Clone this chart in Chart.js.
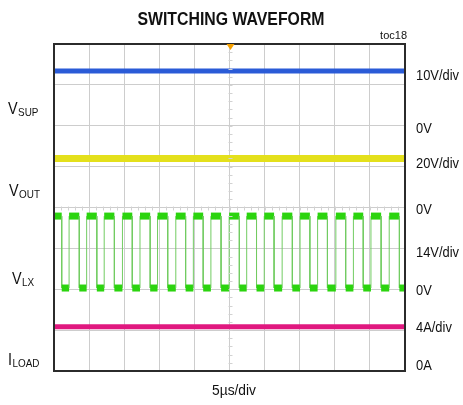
<!DOCTYPE html>
<html lang="en">
<head>
  <meta charset="UTF-8">
  <title>Switching Waveform</title>
  <script src="https://cdn.jsdelivr.net/npm/chart.js"></script>
  <style>
    body { margin: 0; background: #fff; }
    canvas { display: block; }
  </style>
</head>
<body>
  <canvas id="scope" width="463" height="405"></canvas>

  <script>
    // screen is 10 x 8 divisions, values below are in divisions
    const timeSpan = [0, 10];
    const vsupLevel = 7.34;
    const voutLevel = 5.20;
    const iloadLevel = 1.08;
    const lxHigh = 3.79;
    const lxLow = 2.03;
    const lxFall = [0.22, 0.72, 1.22, 1.72, 2.23, 2.74, 3.24, 3.75, 4.25, 4.76,
                    5.28, 5.77, 6.27, 6.79, 7.29, 7.79, 8.31, 8.81, 9.32, 9.84];
    const lxRise = [0.43, 0.93, 1.43, 1.95, 2.45, 2.95, 3.47, 3.97, 4.47, 4.99,
                    5.49, 5.99, 6.50, 7.01, 7.51, 8.03, 8.53, 9.03, 9.55];

    const rightLabels = [
      ['10V/div', 80], ['0V', 133], ['20V/div', 168], ['0V', 214],
      ['14V/div', 257], ['0V', 295], ['4A/div', 332], ['0A', 370]
    ];
    const leftLabels = [
      ['V', 'SUP', 8, 114], ['V', 'OUT', 9, 196], ['V', 'LX', 12, 284], ['I', 'LOAD', 8, 365]
    ];

    function flat(level) {
      return timeSpan.map(t => ({ x: t, y: level }));
    }

    // square wave built from the read edge times
    const lxData = [{ x: 0, y: lxHigh }];
    lxFall.forEach((f, i) => {
      lxData.push({ x: f, y: lxHigh }, { x: f, y: lxLow });
      if (i < lxRise.length) {
        lxData.push({ x: lxRise[i], y: lxLow }, { x: lxRise[i], y: lxHigh });
      }
    });
    lxData.push({ x: 10, y: lxLow });

    const FONT = '"Liberation Sans", Arial, sans-serif';

    function text(ctx, str, x, y, size, bold, sx, align) {
      ctx.save();
      ctx.font = (bold ? 'bold ' : '') + size + 'px ' + FONT;
      ctx.textBaseline = 'alphabetic';
      ctx.textAlign = 'left';
      const w = ctx.measureText(str).width * sx;
      let x0 = x;
      if (align === 'center') x0 = x - w / 2;
      if (align === 'right') x0 = x - w;
      ctx.translate(x0, y);
      ctx.scale(sx, 1);
      ctx.fillText(str, 0, 0);
      ctx.restore();
      return w;
    }

    const scopeDecor = {
      id: 'scopeDecor',
      afterDatasetsDraw(chart) {
        const ctx = chart.ctx;
        const a = chart.chartArea;
        const xs = chart.scales.x, ys = chart.scales.y;
        ctx.save();
        // minor ticks on center lines
        ctx.strokeStyle = '#d2d2d2';
        ctx.lineWidth = 1;
        const cx = Math.round(xs.getPixelForValue(5)) + 0.5;
        const cy = Math.round(ys.getPixelForValue(4)) + 0.5;
        ctx.beginPath();
        for (let v = 0.2; v < 8; v += 0.2) {
          const y = Math.round(ys.getPixelForValue(v)) + 0.5;
          ctx.moveTo(cx - 2, y); ctx.lineTo(cx + 2, y);
        }
        for (let v = 0.2; v < 10; v += 0.2) {
          const x = Math.round(xs.getPixelForValue(v)) + 0.5;
          ctx.moveTo(x, cy - 2); ctx.lineTo(x, cy + 2);
        }
        ctx.stroke();
        // frame
        ctx.strokeStyle = '#2b2b2b';
        ctx.lineWidth = 2;
        ctx.strokeRect(a.left, a.top, a.right - a.left, a.bottom - a.top);
        // trigger marker
        ctx.fillStyle = '#f5a000';
        ctx.beginPath();
        ctx.moveTo(cx - 4, a.top);
        ctx.lineTo(cx + 4, a.top);
        ctx.lineTo(cx, a.top + 6);
        ctx.closePath();
        ctx.fill();

        // texts
        ctx.fillStyle = '#111';
        text(ctx, 'SWITCHING WAVEFORM', 231, 25, 18, true, 0.88, 'center');
        text(ctx, 'toc18', 407, 39, 11, false, 1, 'right');
        text(ctx, '5µs/div', 234, 395, 15, false, 0.92, 'center');
        rightLabels.forEach(([s, y]) => text(ctx, s, 416, y, 15, false, 0.86, 'left'));
        leftLabels.forEach(([m, sub, x, y]) => {
          const w = text(ctx, m, x, y, 16, false, 0.9, 'left');
          text(ctx, sub, x + w + 0.5, y + 2, 11, false, 0.9, 'left');
        });
        ctx.restore();
      }
    };

    function trace(data, color, width) {
      return {
        data, borderColor: color, borderWidth: width,
        pointRadius: 0, fill: false, tension: 0, borderCapStyle: 'butt'
      };
    }

    const lxTrace = trace(lxData, '#6fcf5f', 1);
    lxTrace.segment = {
      borderWidth: c => c.p0.parsed.y === c.p1.parsed.y ? 7 : 1,
      borderColor: c => c.p0.parsed.y === c.p1.parsed.y ? '#2bd40e' : '#72cc62'
    };

    new Chart(document.getElementById('scope'), {
      type: 'line',
      data: {
        datasets: [
          trace(flat(vsupLevel), '#2a5bd7', 5),
          trace(flat(voutLevel), '#e4e01c', 7),
          lxTrace,
          trace(flat(iloadLevel), '#e0187f', 5)
        ]
      },
      options: {
        responsive: false,
        animation: false,
        layout: { padding: { left: 54, right: 58, top: 44, bottom: 34 } },
        plugins: { legend: { display: false }, tooltip: { enabled: false }, title: { display: false } },
        scales: {
          x: {
            type: 'linear', min: 0, max: 10,
            ticks: { display: false, stepSize: 1 },
            grid: { color: '#cdcdcd', drawTicks: false, tickLength: 0 },
            border: { display: false },
            afterFit: s => { s.height = 0; }
          },
          y: {
            type: 'linear', min: 0, max: 8,
            ticks: { display: false, stepSize: 1 },
            grid: { color: '#cdcdcd', drawTicks: false, tickLength: 0 },
            border: { display: false },
            afterFit: s => { s.width = 0; }
          }
        }
      },
      plugins: [scopeDecor]
    });
  </script>
</body>
</html>
